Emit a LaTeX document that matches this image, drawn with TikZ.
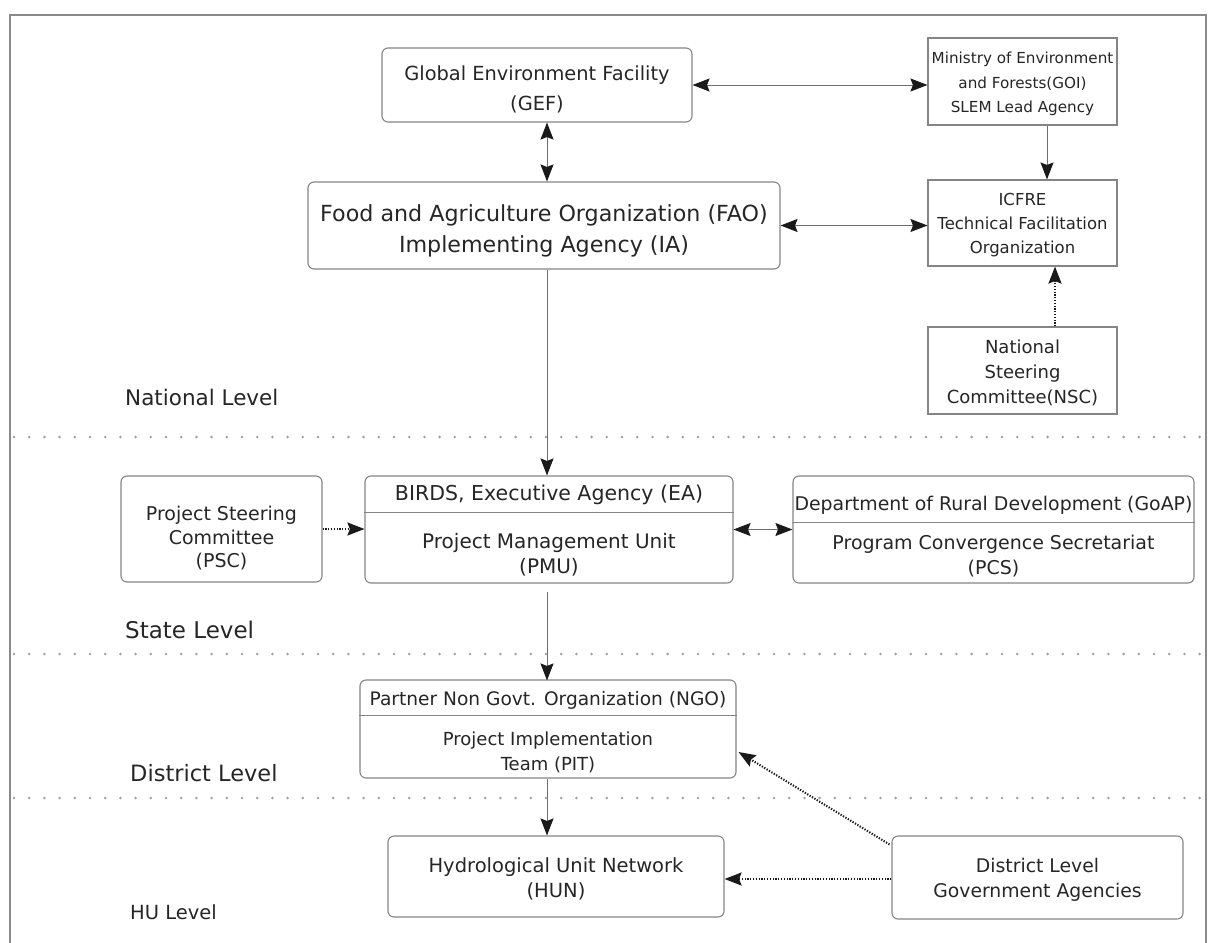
\documentclass[tikz,border=0pt]{standalone}
\usepackage{fontspec}
\setmainfont{DejaVu Sans}
\usetikzlibrary{arrows.meta,calc}
\definecolor{boxgray}{HTML}{858585}
\definecolor{txtgray}{HTML}{262626}
\definecolor{arrcol}{HTML}{1A1A1A}
\definecolor{linegray}{HTML}{6E6E6E}
\definecolor{sepgray}{HTML}{A0A0A0}
\definecolor{framegray}{HTML}{8A8A8A}
\newcommand{\fs}[2]{\fontsize{#1}{#2}\selectfont}
\begin{document}
\begin{tikzpicture}[x=1pt,y=-1pt,
 box/.style={draw=boxgray,line width=1.1pt,rounded corners=6pt,inner sep=0pt},
 sqbox/.style={draw=boxgray,line width=1.1pt,inner sep=0pt},
 txt/.style={text=txtgray,align=center,inner sep=0pt,yshift=-2.5pt},
 tip/.tip={Stealth[length=17pt,width=13pt,inset=2.5pt,color=arrcol]},
 arr/.style={draw=linegray,line width=1pt,-tip},
 biarr/.style={draw=linegray,line width=1pt,tip-tip},
 dotarr/.style={draw=arrcol,line width=2pt,dash pattern=on 1.3pt off 1.5pt,-tip},
 sep/.style={draw=sepgray,line width=2.8pt,dash pattern=on 0pt off 15.2pt,line cap=round},
 lvl/.style={text=txtgray,anchor=west,inner sep=0pt}]
\clip (0,0) rectangle (1212,942);
\fill[white] (0,0) rectangle (1212,942);
\draw[framegray,line width=1.2pt] (10,15) rectangle (1206,980);

% axes
\coordinate (axis) at (547,0);
\coordinate (axr) at (1047,0);
\coordinate (axn) at (1055,0);

% boxes
\node[box,minimum width=310pt,minimum height=74pt] (gef) at (537,85) {};
\node[txt,font=\fs{19.4}{30}] at ([yshift=-2pt]gef.center) {Global Environment Facility\\(GEF)};

\node[sqbox,minimum width=189pt,minimum height=87pt] (moef) at (1022.5,81.5) {};
\node[txt,font=\fs{15.2}{24.5}] at (moef.center) {Ministry of Environment\\and Forests(GOI)\\SLEM Lead Agency};

\node[box,minimum width=472pt,minimum height=87pt] (fao) at (544,225.5) {};
\node[txt,font=\fs{22.2}{31}] at ([yshift=-3pt]fao.center) {Food and Agriculture Organization (FAO)\\Implementing Agency (IA)};

\node[sqbox,minimum width=189pt,minimum height=86pt] (icfre) at (1022.5,223) {};
\node[txt,font=\fs{16.5}{24}] at (icfre.center) {ICFRE\\Technical Facilitation\\Organization};

\node[sqbox,minimum width=189pt,minimum height=87pt] (nsc) at (1022.5,370.5) {};
\node[txt,font=\fs{18}{25}] at (nsc.center) {National\\Steering\\Committee(NSC)};

\node[lvl,font=\fs{21.5}{24}] (natl) at (125,397) {National Level};
\draw[sep] (14,437) -- (1205,437);

\node[box,minimum width=201pt,minimum height=106pt] (psc) at (221.5,529) {};
\node[txt,font=\fs{19}{23.5}] at ([yshift=-7pt]psc.center) {Project Steering\\Committee\\(PSC)};

\node[box,minimum width=368pt,minimum height=107pt] (ea) at (549,529.5) {};
\draw[boxgray,line width=1.1pt] ([yshift=-37pt]ea.north west) -- ([yshift=-37pt]ea.north east);
\node[txt,font=\fs{20.5}{25}] (eatop) at (549,492) {BIRDS, Executive Agency (EA)};
\node[txt,font=\fs{20}{25}] (eabot) at (549,552.5) {Project Management Unit\\(PMU)};

\node[box,minimum width=401pt,minimum height=107pt] (drd) at (993.5,529.5) {};
\draw[boxgray,line width=1.1pt] ([yshift=-47pt]drd.north west) -- ([yshift=-47pt]drd.north east);
\node[txt,font=\fs{18.9}{25}] (drdtop) at (993.5,502.5) {Department of Rural Development (GoAP)};
\node[txt,font=\fs{19}{25}] (drdbot) at (993.5,553.5) {Program Convergence Secretariat\\(PCS)};

\node[lvl,font=\fs{23}{26}] (statel) at (125,630) {State Level};
\draw[sep] (14,654) -- (1205,654);

\node[box,minimum width=376pt,minimum height=98pt] (ngo) at (548,729) {};
\draw[boxgray,line width=1.1pt] ([yshift=-36pt]ngo.north west) -- ([yshift=-36pt]ngo.north east);
\node[txt,font=\fs{18.6}{25}] (ngotop) at (548,698) {Partner Non Govt. Organization (NGO)};
\node[txt,font=\fs{18}{25}] (ngobot) at (548,749.5) {Project Implementation\\Team (PIT)};

\node[lvl,font=\fs{22.5}{26}] (distl) at (130,773) {District Level};
\draw[sep] (14,798) -- (1205,798);

\node[box,minimum width=336pt,minimum height=81pt] (hun) at (556,876.5) {};
\node[txt,font=\fs{19.5}{25}] at (hun.center) {Hydrological Unit Network\\(HUN)};

\node[box,minimum width=291pt,minimum height=83pt] (dlga) at (1037.5,877.5) {};
\node[txt,font=\fs{18.8}{25}] at (dlga.center) {District Level\\Government Agencies};

\node[lvl,font=\fs{19.5}{24}] (hul) at (130,912) {HU Level};

% connectors
\draw[biarr] (gef.east) -- (moef.west |- gef.east);
\draw[biarr] (gef.south -| axis) -- (fao.north -| axis);
\draw[arr] (moef.south -| axr) -- (icfre.north -| axr);
\draw[biarr] (fao.east) -- (icfre.west |- fao.east);
\draw[dotarr] (nsc.north -| axn) -- (icfre.south -| axn);
\draw[arr] (fao.south -| axis) -- (ea.north -| axis);
\draw[dotarr] (psc.east) -- (ea.west |- psc.east);
\draw[biarr] (ea.east) -- (drd.west |- ea.east);
\draw[arr] ([yshift=-8pt]ea.south -| axis) -- ([yshift=-1pt]ngo.north -| axis);
\draw[arr] (ngo.south -| axis) -- (hun.north -| axis);
\draw[dotarr] ([shift={(-2,9)}]dlga.north west) -- ([shift={(2,23)}]ngo.east);
\draw[dotarr] (dlga.west |- 0,879) -- (hun.east |- 0,879);
\end{tikzpicture}
\end{document}
